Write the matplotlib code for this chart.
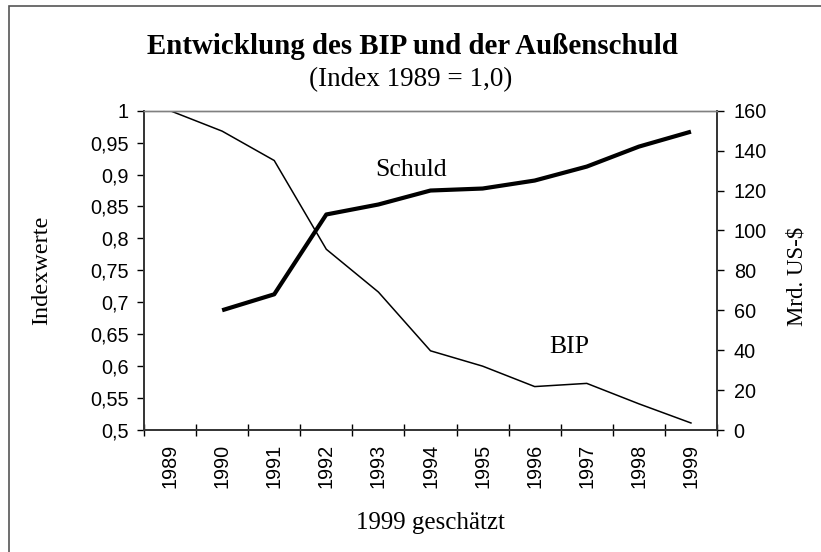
import matplotlib
matplotlib.use("Agg")
import matplotlib.pyplot as plt
from matplotlib.patches import Rectangle
import numpy as np

years = ["1989", "1990", "1991", "1992", "1993", "1994", "1995", "1996", "1997", "1998", "1999"]
bip_index = [1.0, 0.968, 0.922, 0.783, 0.716, 0.624, 0.600, 0.568, 0.573, 0.541, 0.511]
schuld_years = ["1990", "1991", "1992", "1993", "1994", "1995", "1996", "1997", "1998", "1999"]
schuld_mrd = [60, 68, 108, 113, 120, 121, 125, 132, 142, 149.5]

W, H = 821, 552
fig = plt.figure(figsize=(W / 100, H / 100), dpi=100)
fig.patch.set_facecolor("white")

# outer border (top/left visible)
fig.add_artist(Rectangle((9 / W, -0.1), 1.2, 1 - 6 / H + 0.1, transform=fig.transFigure,
                         fill=False, edgecolor="#555555", linewidth=1.2))

x0, x1 = 144, 717
y0, y1 = 110.7, 430
ax = fig.add_axes([x0 / W, 1 - y1 / H, (x1 - x0) / W, (y1 - y0) / H])
ax2 = ax.twinx()

xpos = np.arange(len(years))
spos = np.array([years.index(y) for y in schuld_years])

ax.plot(xpos, bip_index, color="black", linewidth=1.1)
ax2.plot(spos, schuld_mrd, color="black", linewidth=3.0, solid_capstyle="butt")

ax.set_xlim(-0.5, len(years) - 0.5)
ax.set_ylim(0.5, 1.0)
ax2.set_ylim(0, 160)

sans = "Liberation Sans"
serif = "Liberation Serif"
tfs = 14.3

yt = np.arange(0.5, 1.0001, 0.05)
ax.set_yticks(yt)
ax.set_yticklabels([("%.2f" % v).rstrip("0").rstrip(".").replace(".", ",") for v in yt],
                   fontfamily=sans, fontsize=tfs)
ax2.set_yticks(np.arange(0, 161, 20))
ax2.set_yticklabels([str(v) for v in range(0, 161, 20)], fontfamily=sans, fontsize=tfs)

ax.set_xticks(xpos)
ax.set_xticklabels(years, rotation=90, fontfamily=sans, fontsize=tfs)
ax.set_xticks(np.arange(-0.5, len(years)), minor=True)
ax.tick_params(axis="x", which="major", length=0, pad=10)
ax.tick_params(axis="x", which="minor", length=8, direction="inout", width=1)
ax.tick_params(axis="y", length=5, direction="out", width=1, pad=6)
ax2.tick_params(axis="y", length=5, direction="out", width=1, pad=7)

for a in (ax, ax2):
    for s in ("left", "right", "bottom"):
        a.spines[s].set_color("#333333")
        a.spines[s].set_linewidth(1.2)
    a.spines["top"].set_color("#808080")
    a.spines["top"].set_linewidth(1.0)

ax.set_ylabel("Indexwerte", fontfamily=serif, fontsize=17.5)
ax.yaxis.set_label_coords((42 - x0) / (x1 - x0), (y1 - 270) / (y1 - y0))
ax2.set_ylabel("Mrd. US-$", fontfamily=serif, fontsize=16.5, rotation=90)
ax2.yaxis.set_label_coords((797 - x0) / (x1 - x0), (y1 - 276) / (y1 - y0))
ax.yaxis.label.set_va("center")
ax2.yaxis.label.set_va("center")

fig.text(412 / W, 1 - 47 / H, "Entwicklung des BIP und der Außenschuld", ha="center", va="center",
         fontfamily=serif, fontweight="bold", fontsize=20.8)
fig.text(411 / W, 1 - 80 / H, "(Index 1989 = 1,0)", ha="center", va="center",
         fontfamily=serif, fontsize=19.5)
fig.text(430 / W, 1 - 523 / H, "1999 geschätzt", ha="center", va="center",
         fontfamily=serif, fontsize=18)

fig.text(411 / W, 1 - 170 / H, "Schuld", ha="center", va="center", fontfamily=serif, fontsize=18.5)
fig.text(569 / W, 1 - 347 / H, "BIP", ha="center", va="center", fontfamily=serif, fontsize=18.5)

fig.savefig("out.png", dpi=100, facecolor="white")
